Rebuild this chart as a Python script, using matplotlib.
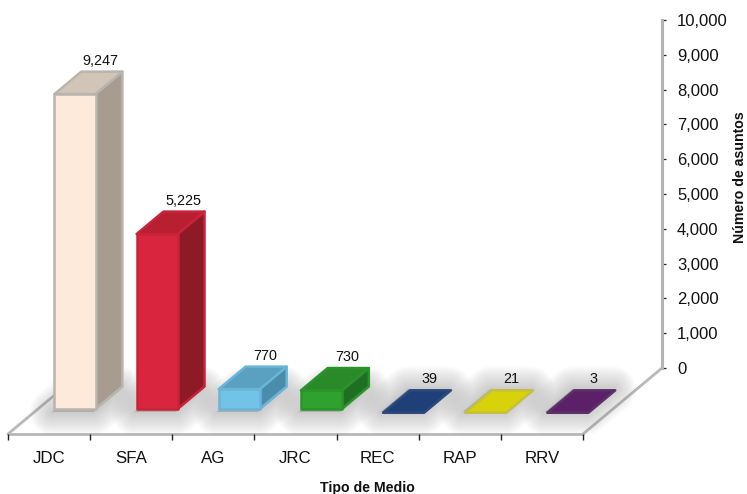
import matplotlib
matplotlib.use("Agg")
import matplotlib.pyplot as plt
from matplotlib.patches import Polygon
from matplotlib.ticker import StrMethodFormatter

plt.rcParams["font.family"] = ["Liberation Sans", "DejaVu Sans"]

categories = ["JDC", "SFA", "AG", "JRC", "REC", "RAP", "RRV"]
values = [9247, 5225, 770, 730, 39, 21, 3]
front_colors = ["#fdeadb", "#d9263e", "#72c3e8", "#2ea12e", "#1f3f78", "#d8d20a", "#5c2068"]
top_colors = ["#d2c5b7", "#b81f30", "#5aa0c0", "#2a8a2a", "#1f3f78", "#d8d20a", "#5c2068"]
side_colors = ["#a89c90", "#8e1a26", "#4a8cab", "#1e6e24", "#1f3f78", "#d8d20a", "#5c2068"]
edge_colors = ["#b8b4ae", "#c9233a", "#6ab4d6", "#2a942a", "#2c4a7c", "#c4c040", "#5c3068"]
y_ticks = [0, 1000, 2000, 3000, 4000, 5000, 6000, 7000, 8000, 9000, 10000]

W, H = 747, 494
# floor depth: from back wall (d=0) to front edge (d=1)
DX = -79 / 82.14      # in categories
DY = -66 / 0.0348     # in asuntos
BAR_W = 0.5
D_FRONT = 0.62
D_BACK = 0.28
INSET = 200           # bevel eats a bit of the height
FLAT = -110

fig = plt.figure(figsize=(W / 100, H / 100), dpi=100)
ax = fig.add_axes([87 / W, (H - 368) / H, 575 / W, 348 / H])
ax.set_xlim(0, 7)
ax.set_ylim(0, 10000)
ax.patch.set_visible(False)
for s in ["top", "left", "bottom"]:
    ax.spines[s].set_visible(False)
ax.spines["right"].set_color("#b4b4b4")
ax.spines["right"].set_linewidth(2.2)
ax.set_xticks([])
ax.yaxis.tick_right()
ax.set_yticks(y_ticks)
ax.yaxis.set_major_formatter(StrMethodFormatter("{x:,.0f}"))
ax.tick_params(axis="y", direction="out", length=3.2, width=0.9, color="#222222",
               labelsize=12, pad=7.6, labelcolor="#111111")


def pr(x, y, d):
    return (x + d * DX, y + d * DY)


def poly(pts, face, edge=None, lw=1.8, alpha=None, z=3):
    p = Polygon(pts, closed=True, facecolor=face, edgecolor=edge if edge else face,
                linewidth=lw, joinstyle="round", alpha=alpha, zorder=z, clip_on=False)
    ax.add_patch(p)


# floor edges
floor = dict(color="#b8b8b8", lw=2, clip_on=False, zorder=1, solid_capstyle="round")
ax.plot(*zip(pr(0, 0, 1), pr(7, 0, 1)), **floor)
ax.plot(*zip(pr(7, 0, 0), pr(7, 0, 1)), **floor)
ax.plot(*zip(pr(0, 0, 1), pr(0, 0, 0.42)), **floor)

# ticks on the front edge
for i in range(8):
    x, y = pr(i, 0, 1)
    ax.plot([x], [y], marker=3, ms=4, mew=1, color="#222222", clip_on=False, zorder=2)

for i, (cat, v) in enumerate(zip(categories, values)):
    c = i + 0.45
    x0, x1 = c - BAR_W / 2, c + BAR_W / 2
    top = max(v - INSET, FLAT)

    # shadow on the floor
    sx, sy = -2 / 82.14, -3 / 0.0348
    foot = [pr(x0 + sx, sy, D_FRONT), pr(x1 + sx, sy, D_FRONT), pr(x1 + sx, sy, D_BACK), pr(x0 + sx, sy, D_BACK)]
    for lw in range(46, 0, -3):
        poly(foot, "#808080", "#808080", lw=lw * 0.72, alpha=0.028, z=1.5)

    if top > 0:
        poly([pr(x1, 0, D_FRONT), pr(x1, 0, D_BACK), pr(x1, top, D_BACK), pr(x1, top, D_FRONT)],
             side_colors[i], edge_colors[i], z=3)
        poly([pr(x0, top, D_FRONT), pr(x1, top, D_FRONT), pr(x1, top, D_BACK), pr(x0, top, D_BACK)],
             top_colors[i], edge_colors[i], z=3)
        poly([pr(x0, 0, D_FRONT), pr(x1, 0, D_FRONT), pr(x1, top, D_FRONT), pr(x0, top, D_FRONT)],
             front_colors[i], edge_colors[i], z=4)
    else:
        poly([pr(x0, top, D_FRONT), pr(x1, top, D_FRONT), pr(x1, top, D_BACK), pr(x0, top, D_BACK)],
             top_colors[i], edge_colors[i], z=3)

    # value label sits over the back of the top face
    lx, ly = pr(c, top, D_BACK)
    ax.annotate(f"{v:,}", xy=(lx, ly), xytext=(-1, 11), textcoords="offset pixels",
                ha="center", va="center", fontsize=10.4, color="#111111", annotation_clip=False, zorder=5)

    # category label under the front edge
    fx, fy = pr(i + 0.5, 0, 1)
    ax.annotate(cat, xy=(fx, fy), xytext=(0, -24), textcoords="offset pixels",
                ha="center", va="center", fontsize=12.2, color="#111111", annotation_clip=False)

fig.text(367 / W, 1 - 488 / H, "Tipo de Medio", ha="center", va="center",
         fontsize=10.2, fontweight="bold", color="#111111")
fig.text(740 / W, 1 - 177 / H, "Número de asuntos", ha="center", va="center", rotation=90,
         fontsize=10.2, fontweight="bold", color="#111111")

fig.savefig("out.png", dpi=100)
